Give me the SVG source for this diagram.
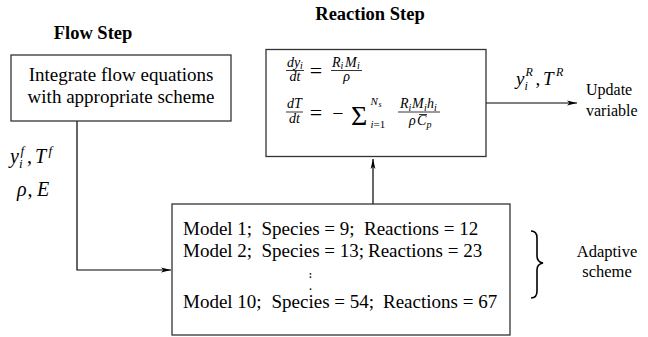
<svg xmlns="http://www.w3.org/2000/svg" width="648" height="337" viewBox="0 0 648 337">
<style>
.box{fill:#fff;stroke:#333;stroke-width:1.3}
.t{font-family:"Liberation Serif","Times New Roman",serif;fill:#000}
.b{font-weight:bold;font-size:18.5px}
.m{font-style:italic}
.c{stroke:#000;stroke-width:1.2;fill:none}
.bar{stroke:#000;stroke-width:0.8}
</style>
<defs>
<marker id="ah" markerWidth="10" markerHeight="6" refX="10" refY="3" orient="auto" markerUnits="userSpaceOnUse">
<path d="M0,0.6 L10,3 L0,5.4 L2.5,3 z" fill="#000"/>
</marker>
</defs>
<rect width="648" height="337" fill="#fff"/>

<text class="t b" x="93" y="39" text-anchor="middle">Flow Step</text>
<text class="t b" x="370" y="19.5" text-anchor="middle">Reaction Step</text>

<g id="connectors">
<path class="c" d="M77,121 V270 H171" marker-end="url(#ah)"/>
<path class="c" d="M373,204 V159" marker-end="url(#ah)"/>
<path class="c" d="M486,103 H577" marker-end="url(#ah)"/>
</g>

<g id="flow">
<rect class="box" x="11" y="55" width="220" height="66"/>
<text class="t" x="121" y="81" font-size="19" text-anchor="middle">Integrate flow equations</text>
<text class="t" x="121" y="103" font-size="19" text-anchor="middle">with appropriate scheme</text>
</g>

<g id="flow-vars">
<text class="t m" font-size="20"><tspan x="10" y="163">y</tspan><tspan x="19" y="167.5" font-size="13">i</tspan><tspan x="20.5" y="155" font-size="13">f</tspan><tspan x="27" y="163" font-style="normal">,</tspan><tspan x="35" y="163">T</tspan><tspan x="48.5" y="155" font-size="13">f</tspan></text>
<text class="t m" font-size="20"><tspan x="17" y="196">ρ</tspan><tspan x="27.5" y="196" font-style="normal">,</tspan><tspan x="37" y="196">E</tspan></text>
</g>

<g id="reaction">
<rect class="box" x="266" y="49.5" width="220" height="107"/>
<!-- eq 1 -->
<text class="t m" font-size="14"><tspan x="287" y="66.5">dy</tspan><tspan x="300" y="69" font-size="10">i</tspan></text>
<line class="bar" x1="286" y1="70.5" x2="304" y2="70.5"/>
<text class="t m" x="295" y="80.5" font-size="14" text-anchor="middle">dt</text>
<text class="t" x="316" y="78" font-size="22" text-anchor="middle">=</text>
<text class="t m" font-size="14"><tspan x="332" y="66.5">R</tspan><tspan x="340.5" y="69" font-size="10">i</tspan><tspan x="345" y="66.5">M</tspan><tspan x="357" y="69" font-size="10">i</tspan></text>
<line class="bar" x1="331" y1="70.5" x2="362" y2="70.5"/>
<text class="t m" x="346.5" y="80.5" font-size="14" text-anchor="middle">ρ</text>
<!-- eq 2 -->
<text class="t m" x="287" y="108" font-size="14">dT</text>
<line class="bar" x1="286" y1="112" x2="303" y2="112"/>
<text class="t m" x="294.5" y="123" font-size="14" text-anchor="middle">dt</text>
<text class="t" x="316" y="120" font-size="22" text-anchor="middle">=</text>
<text class="t" x="338" y="119.5" font-size="20" text-anchor="middle">−</text>
<text class="t" x="351" y="124.5" font-size="28">Σ</text>
<text class="t m" font-size="11"><tspan x="370.5" y="105">N</tspan><tspan x="378.5" y="107" font-size="8">s</tspan></text>
<text class="t" x="370.5" y="128" font-size="11"><tspan class="m">i</tspan>=1</text>
<text class="t m" font-size="14"><tspan x="400" y="108">R</tspan><tspan x="408.5" y="110.5" font-size="10">i</tspan><tspan x="412" y="108">M</tspan><tspan x="424" y="110.5" font-size="10">i</tspan><tspan x="427" y="108">h</tspan><tspan x="434" y="110.5" font-size="10">i</tspan></text>
<line class="bar" x1="398" y1="112" x2="440" y2="112"/>
<text class="t m" font-size="14"><tspan x="409" y="125">ρ</tspan><tspan x="417" y="125">C</tspan><tspan x="426.5" y="127.5" font-size="10">p</tspan></text>
<line class="bar" x1="419" y1="114.5" x2="427" y2="114.5"/>
</g>

<g id="update">
<text class="t m" font-size="19"><tspan x="516" y="85">y</tspan><tspan x="524.5" y="90" font-size="12">i</tspan><tspan x="525.5" y="76" font-size="12">R</tspan><tspan x="535.5" y="85" font-style="normal">,</tspan><tspan x="543" y="85">T</tspan><tspan x="556" y="76" font-size="12">R</tspan></text>
<text class="t" x="586" y="95" font-size="16">Update</text>
<text class="t" x="586" y="116" font-size="16">variable</text>
</g>

<g id="models">
<rect class="box" x="172" y="204" width="338" height="131"/>
<text class="t" y="235" font-size="19"><tspan x="183">Model 1;</tspan><tspan x="261.5">Species = 9;</tspan><tspan x="364">Reactions = 12</tspan></text>
<text class="t" y="256.5" font-size="19"><tspan x="183">Model 2;</tspan><tspan x="261.5">Species = 13;</tspan><tspan x="368">Reactions = 23</tspan></text>
<text class="t" font-size="10" font-weight="bold" text-anchor="middle"><tspan x="310.5" y="277.5">:</tspan><tspan x="310.5" y="289.5">.</tspan></text>
<text class="t" y="308" font-size="19"><tspan x="183">Model 10;</tspan><tspan x="271.5">Species = 54;</tspan><tspan x="383">Reactions = 67</tspan></text>
</g>

<g id="adaptive">
<path d="M531,231 Q537,231 537,238 V256 Q537,262 543,263 Q537,264 537,270 V291 Q537,298 531,298" fill="none" stroke="#000" stroke-width="1.6"/>
<text class="t" x="607" y="257" font-size="16.5" text-anchor="middle">Adaptive</text>
<text class="t" x="607" y="277" font-size="16.5" text-anchor="middle">scheme</text>
</g>
</svg>
